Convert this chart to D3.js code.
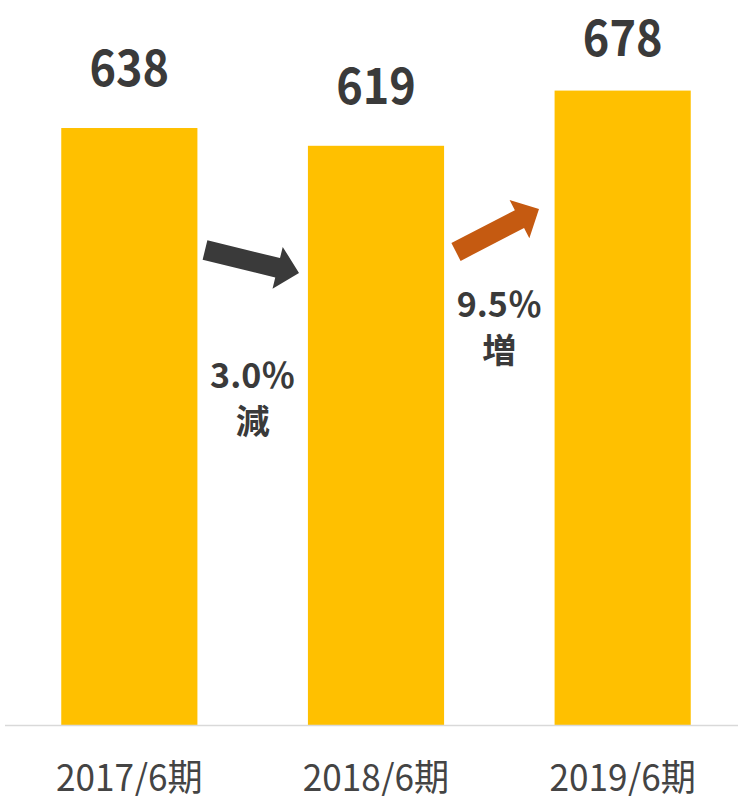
<!DOCTYPE html>
<html>
<head>
<meta charset="utf-8">
<script src="https://cdn.jsdelivr.net/npm/d3@7"></script>
<style>
  html, body { margin: 0; padding: 0; background: #fff; }
  svg { display: block; }
</style>
</head>
<body>
<svg id="chart" width="738" height="796"></svg>
<script>
// Fiscal periods and values
const periods = ["2017/6期", "2018/6期", "2019/6期"];
const values = [638, 619, 678];
// Year-over-year change annotations between consecutive bars
const changeLabels = [["3.0％", "減"], ["9.5％", "増"]];
const changeColors = ["#3a3a3a", "#c55a11"];

const W = 738, H = 796;
const baseY = 725;
const svg = d3.select("#chart");

const x = d3.scaleBand()
  .domain(periods)
  .range([6, 746])
  .paddingInner(0.448)
  .paddingOuter(0.224);

const y = d3.scaleLinear()
  .domain([0, 700])
  .range([baseY, 70]);

const font = "'Noto Sans CJK JP', 'Noto Sans', sans-serif";

// Bars
svg.append("g").selectAll("rect")
  .data(values)
  .join("rect")
  .attr("x", (d, i) => x(periods[i]))
  .attr("y", d => y(d))
  .attr("width", x.bandwidth())
  .attr("height", d => y(0) - y(d))
  .attr("fill", "#ffc000");

// Baseline
svg.append("line")
  .attr("x1", 5).attr("x2", W)
  .attr("y1", baseY + 0.5).attr("y2", baseY + 0.5)
  .attr("stroke", "#d9d9d9").attr("stroke-width", 1.5);

// Value labels
svg.append("g").selectAll("text")
  .data(values)
  .join("text")
  .attr("transform", (d, i) => {
    const cx = x(periods[i]) + x.bandwidth() / 2;
    const by = Math.max(y(d) - 42, 56);
    return `translate(${cx},${by}) scale(0.9,1)`;
  })
  .attr("text-anchor", "middle")
  .attr("font-family", font)
  .attr("font-weight", 700)
  .attr("font-size", 50)
  .attr("fill", "#3a3a3a")
  .text(d => d);

// Category labels
svg.append("g").selectAll("text")
  .data(periods)
  .join("text")
  .attr("transform", d => `translate(${x(d) + x.bandwidth() / 2},791) scale(0.95,1)`)
  .attr("text-anchor", "middle")
  .attr("font-family", font)
  .attr("font-weight", 400)
  .attr("font-size", 37)
  .attr("fill", "#444")
  .text(d => d);

// Block arrow from (x0,y0) to tip (x1,y1)
function arrowPath(x0, y0, x1, y1, shaftW, headW, headL) {
  const dx = x1 - x0, dy = y1 - y0;
  const L = Math.hypot(dx, dy);
  const ux = dx / L, uy = dy / L;
  const nx = -uy, ny = ux;
  const bx = x1 - ux * headL, by = y1 - uy * headL;
  const pts = [
    [x0 + nx * shaftW / 2, y0 + ny * shaftW / 2],
    [bx + nx * shaftW / 2, by + ny * shaftW / 2],
    [bx + nx * headW / 2, by + ny * headW / 2],
    [x1, y1],
    [bx - nx * headW / 2, by - ny * headW / 2],
    [bx - nx * shaftW / 2, by - ny * shaftW / 2],
    [x0 - nx * shaftW / 2, y0 - ny * shaftW / 2]
  ];
  return d3.line()(pts) + "Z";
}

// Change annotations between bars
const arrowGeom = [
  { t: [205, 250], h: [299, 273], textY: 388 },
  { t: [456, 252], h: [539, 209], textY: 317 }
];

changeLabels.forEach((lab, i) => {
  const g = arrowGeom[i];
  const gapL = x(periods[i]) + x.bandwidth();
  const gapR = x(periods[i + 1]);
  const cx = (gapL + gapR) / 2;
  svg.append("path")
    .attr("d", arrowPath(g.t[0], g.t[1], g.h[0], g.h[1], 20, 43, 22))
    .attr("fill", changeColors[i]);
  const tx = svg.append("text")
    .attr("text-anchor", "middle")
    .attr("font-family", font)
    .attr("font-weight", 700)
    .attr("font-size", 34)
    .attr("fill", "#3a3a3a");
  tx.append("tspan").attr("x", cx).attr("y", g.textY).text(lab[0]);
  tx.append("tspan").attr("x", cx).attr("y", g.textY + 46).text(lab[1]);
});
</script>
</body>
</html>
